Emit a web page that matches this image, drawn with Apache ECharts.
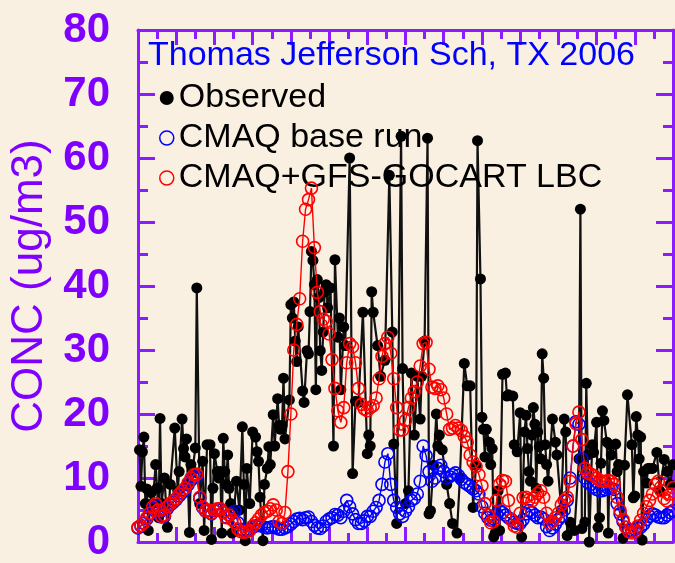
<!DOCTYPE html>
<html>
<head>
<meta charset="utf-8">
<title>Thomas Jefferson Sch, TX 2006</title>
<script src="https://cdn.jsdelivr.net/npm/echarts@6/dist/echarts.min.js"></script>
<style>
  html, body { margin: 0; padding: 0; background: #faf0e2; }
  #chart { width: 675px; height: 563px; }
</style>
</head>
<body>
<div id="chart"></div>
<script>
// Daily PM concentrations, 2006 (x = day of year, y = ug/m3)
const chartTitle = 'Thomas Jefferson Sch, TX 2006';
const seriesNames = ['Observed', 'CMAQ base run', 'CMAQ+GFS-GOCART LBC'];
const yTickValues = [0, 10, 20, 30, 40, 50, 60, 70, 80];

// Observed samples: day of year and concentration
const obsDay = [1,2,3,4,5,6,7,9,10,12,13,14,15,16,18,20,22,25,27,28,30,31,32,33,34,35,36,37,39,40,
  42,44,45,47,49,50,51,52,54,55,56,57,58,59,60,61,62,63,64,67,69,71,72,73,74,76,78,80,81,82,
  83,85,86,88,89,90,92,93,95,96,97,98,99,100,103,104,105,106,107,108,109,112,113,115,116,117,118,119,120,121,
  122,123,124,125,126,127,128,129,131,133,134,136,137,138,140,141,144,146,148,150,153,156,157,158,159,160,163,165,168,171,
  173,174,176,179,180,182,184,186,188,190,192,193,195,197,198,199,201,203,204,205,207,210,212,214,217,219,222,224,226,228,
  230,231,233,234,235,236,237,239,240,241,242,243,245,246,248,250,251,252,255,256,258,260,261,263,264,265,266,267,268,269,
  270,271,272,273,274,275,276,277,278,279,282,284,285,288,290,291,292,294,297,300,301,302,304,305,306,307,309,310,312,313,
  314,315,316,317,319,320,321,322,325,326,327,330,331,333,336,337,338,339,340,341,342,343,344,346,347,348,350,353,355,358,
  360,362,364];
const obsConc = [14.4,8.7,14.1,16.4,6,8.3,1.8,7.7,6,12.1,8.4,3.8,19.3,6,10,2.3,9,17.8,8,11,19.2,14.6,13.3,16.1,9,1.5,12.1,11,14.7,39.7,
  6,12.6,1.8,15.2,15.2,0.4,8.4,13.8,11,10,11,1.4,16.2,11,9,13.6,8.4,6,1.4,9.5,5,18,9,0.2,11.5,6,17.2,16.4,14.1,12.6,
  7,0.2,9,11.5,14.9,12.1,19.9,15,22.4,18.2,17.6,18.2,25.6,16.1,22.2,37.1,35,37.5,31.4,28.2,33.6,23.6,21.8,29.9,29.4,36,45.4,44,40.2,23.8,
  41,38.2,29.9,26.8,32.8,39.1,40.2,36.6,39.7,15,44.1,32,35,23.8,33.6,30.7,60,10.7,22,21.8,35.9,13.8,16.7,15,39.1,35.9,30.7,25.9,28.4,57.3,
  32.8,15.3,2.9,63.4,27.1,6,8,26.4,16.7,25.9,19.2,25.9,31.4,63.1,4.4,4.9,12,20,15,16.7,14.4,9,6,2.9,1.4,10,27.9,24.4,24.4,5.4,
  12,62.7,41.1,19.5,17.6,13.3,17.6,15.6,12.1,14.6,0.8,1.4,8,1.8,26.2,26.4,22.8,23,22.8,15.2,14.1,20.2,0.8,17.2,19.8,14.6,11,9.5,16.7,21,
  18.4,8.4,17.2,14.9,13,29.4,25.6,15.2,12.1,9.5,19.2,15.6,13.6,5,19.2,17.2,1,3.1,1.8,13,52,2.1,3.1,24.8,13.6,0,15.2,14,18.7,2.3,
  3.8,12.3,20.5,19,15.6,1.4,15.2,13.6,15.3,11,12.1,0.6,12,23,15.2,6.9,7.2,19.6,16.7,13,16.4,0.3,11,9.2,11.5,11.5,11.5,14,8,12.9,
  11,9,12.1];

// Model output, one value every modelStep days starting on day 0
const modelStep = 2;
const baseRun = [2.2,2.5,2.9,3.6,4.3,5.2,5.7,4.8,3.9,4,
  5.2,5.8,6.2,6.6,7.2,7.7,8.1,8.9,9.6,10.1,
  10.2,6.8,5.4,4.8,4.9,4.4,4.9,5.1,5.1,4.6,
  3.9,4.3,4.5,4.8,3,2,1.8,1.8,2,2.3,
  2.5,2.6,2.5,2.3,2.2,2.3,2.4,2.2,2,2,
  2.2,2.4,2.8,3.2,3.6,3.7,3.5,3.8,3.9,3.2,
  2.6,2.2,2.1,2.5,3.2,3.6,3.8,4.3,4.2,3.8,
  4.8,6.5,5.5,4.4,3.5,2.9,2.9,3.3,4,4,
  4.8,5.4,6.5,9,12.5,13.8,9,6.5,5.4,4.4,
  4,4.8,5.5,6.5,6.8,7.5,9.5,15,13.5,11,
  9.5,10,11.5,12,11,10,10.2,10.5,10.8,10.4,
  9.8,9.3,9,8.7,8.3,8,7.5,5.5,4.5,3.8,
  3.4,3.6,4.4,4.9,4.6,4.2,3.8,3.5,3.1,2.9,
  2.9,3.5,4.4,4.9,4.6,4.2,3.8,3.9,3.6,2.4,
  1.8,2.2,2.8,3.5,4,5,6.5,10,15,18.8,
  18.4,13,10,9.3,9,8.6,8.2,8,8,8.2,
  8.4,8.4,8.2,6,4.4,3.2,2.3,1.8,1.8,2,
  2.2,2.3,2.8,3.5,4,4.4,4.2,3.9,3.8,3.8,
  4.2,4.6,4.9];
const gocartRun = [2.3,2.6,3,3.8,4.5,5.5,6,5,4,4.2,
  5.5,6,6.4,6.8,7.5,8,8.4,9.2,10,10.5,
  10.6,7,5.5,4.9,5,4.5,5,5.2,5.2,4.6,
  3.8,4.2,3.5,3,2,1.6,1.5,1.6,1.8,2.5,
  3,3.6,4.2,4.6,4.8,5.2,5.8,5,3.2,2.9,
  4.6,11,20,30,34,38,47,52,53.5,55.3,
  46,39,36,34.8,34.5,32.5,28.5,24,20.5,18.7,
  21,28,31,30.5,28,24,21.5,20.8,20.5,21,
  21.3,22.5,25.5,29,31,32,29.5,25.5,21,17.5,
  17.5,19,21,22.5,23.5,25,27.5,31,31.2,27,
  24.2,24,24.4,23.8,22.5,20,17.6,17.8,18.2,17.8,
  17.4,16.5,15.6,13.6,12.5,11.8,10.5,8.8,6,4.2,
  3,3.2,6.5,9,9.6,9.5,6.5,3.5,2.5,2.3,
  4.5,6.9,7,6.6,6.4,7,7.6,8,7,4.5,
  2.9,3.2,3.8,4.5,5.8,6.5,7,9.5,15,18.5,
  20.3,16,11.5,10.8,10.6,10.4,10,9.6,9.5,9.5,
  9.6,9.5,9,7,4.9,3.5,2.3,1.6,1.4,1.6,
  2.5,3.4,4.5,5.5,6.5,7.5,9,9.5,8,6.8,
  6.4,7.5,8.5];

const PURPLE = '#8000ff';
const AXIS_COLOR = '#8a1cff';
const FONT = '"Liberation Sans", Arial, sans-serif';

const obsData = obsDay.map((d, i) => [d, obsConc[i]]);
const baseData = baseRun.map((v, i) => [i * modelStep, v]);
const gocartData = gocartRun.map((v, i) => [i * modelStep, v]);

const axisLine = { show: true, onZero: false, lineStyle: { color: AXIS_COLOR, width: 3 } };
function ticks(len) {
  return { show: true, inside: true, length: len, lineStyle: { color: AXIS_COLOR, width: 3 } };
}
function minor(len) {
  return { show: true, splitNumber: 2, length: len, lineStyle: { color: AXIS_COLOR, width: 3 } };
}
function xAxisAt(pos) {
  return {
    type: 'value', position: pos, min: 0, max: 364, interval: 26,
    axisLine: axisLine, axisTick: ticks(15), minorTick: minor(9),
    axisLabel: { show: false }, splitLine: { show: false }, minorSplitLine: { show: false }
  };
}
function yAxisAt(pos, withLabels) {
  return {
    type: 'value', position: pos, min: yTickValues[0], max: yTickValues[yTickValues.length - 1], interval: 10,
    axisLine: axisLine, axisTick: ticks(17), minorTick: minor(10),
    splitLine: { show: false }, minorSplitLine: { show: false },
    axisLabel: withLabels
      ? { show: true, color: PURPLE, fontFamily: FONT, fontSize: 42, fontWeight: 'bold', margin: 28 }
      : { show: false },
    name: withLabels ? 'CONC (ug/m3)' : '',
    nameLocation: 'middle',
    nameGap: 86,
    nameTextStyle: { color: PURPLE, fontFamily: FONT, fontSize: 44, fontWeight: 'normal' }
  };
}

const chart = echarts.init(document.getElementById('chart'), null, { renderer: 'canvas' });
chart.setOption({
  backgroundColor: '#faf0e2',
  animation: false,
  title: {
    text: chartTitle, left: 148, top: 39, padding: 0,
    textStyle: { color: '#0000ff', fontFamily: FONT, fontSize: 34, fontWeight: 'normal', lineHeight: 34 }
  },
  legend: {
    orient: 'vertical', left: 159, top: 81, padding: 0, itemGap: 6,
    itemWidth: 14, itemHeight: 14,
    textStyle: { color: '#000', fontFamily: FONT, fontSize: 34, lineHeight: 34 },
    data: [
      { name: seriesNames[0], icon: 'circle', itemStyle: { color: '#000', borderWidth: 0 } },
      { name: seriesNames[1], icon: 'circle', itemStyle: { color: 'rgba(0,0,0,0)', borderColor: '#0000ff', borderWidth: 1.5 } },
      { name: seriesNames[2], icon: 'circle', itemStyle: { color: 'rgba(0,0,0,0)', borderColor: '#ff0000', borderWidth: 1.5 } }
    ]
  },
  grid: { left: 138, right: 2, top: 30, bottom: 11, containLabel: false },
  xAxis: [xAxisAt('bottom'), xAxisAt('top')],
  yAxis: [yAxisAt('left', true), yAxisAt('right', false)],
  series: [
    {
      name: seriesNames[0], type: 'line', data: obsData,
      symbol: 'circle', symbolSize: 11, showAllSymbol: true,
      itemStyle: { color: '#000' },
      lineStyle: { color: '#111', width: 2.2 },
      z: 2
    },
    {
      name: seriesNames[1], type: 'line', data: baseData,
      symbol: 'circle', symbolSize: 12, showAllSymbol: true,
      itemStyle: { color: 'rgba(0,0,0,0)', borderColor: '#0000ff', borderWidth: 1.6 },
      lineStyle: { color: '#0000ff', width: 1.4 },
      z: 3
    },
    {
      name: seriesNames[2], type: 'line', data: gocartData,
      symbol: 'circle', symbolSize: 12, showAllSymbol: true,
      itemStyle: { color: 'rgba(0,0,0,0)', borderColor: '#ff0000', borderWidth: 1.6 },
      lineStyle: { color: '#ff0000', width: 1.4 },
      z: 4
    }
  ]
});
</script>
</body>
</html>
